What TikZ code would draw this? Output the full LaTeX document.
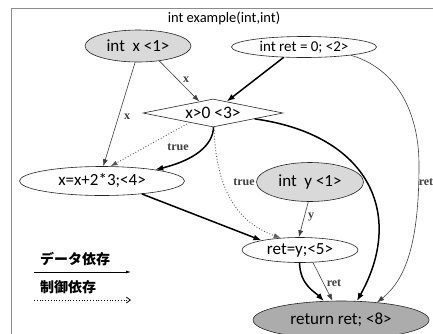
\documentclass[tikz,border=0pt]{standalone}
\usepackage{fontspec}
\setmainfont{Carlito}
\newfontfamily\lblfont{Liberation Serif}
\newfontfamily\jpfont{Noto Sans CJK JP}
\usetikzlibrary{shapes.geometric,arrows.meta}
\definecolor{framegray}{HTML}{8C8C8C}
\definecolor{lightfill}{HTML}{D9D9D9}
\definecolor{darkfill}{HTML}{ACACAC}
\tikzset{
  nodeline/.style={draw=black!85, line width=0.6pt},
  ell/.style={nodeline, ellipse, inner sep=0pt, font=\fontsize{17}{17}\selectfont},
  thin edge/.style={draw=black!75, line width=0.6pt, -{Latex[length=7pt,width=5pt]}},
  thick edge/.style={draw=black, line width=1.5pt, -{Latex[length=8pt,width=6pt]}},
  dot edge/.style={draw=black!65, line width=0.9pt, dotted, -{Latex[length=7pt,width=5pt]}},
  lbl/.style={font=\lblfont\bfseries\fontsize{12}{12}\selectfont, text=black!75, inner sep=0pt},
  jp/.style={font=\jpfont\bfseries\fontsize{14}{14}\selectfont, anchor=west, inner sep=0pt}
}
\begin{document}
\begin{tikzpicture}[x=1pt,y=-1pt]
\useasboundingbox (0,0) rectangle (433,333);
\clip (0,0) rectangle (433,333);
\fill[white] (0,0) rectangle (433,333);
\draw[framegray, line width=1.8pt] (11.5,8.5) rectangle (460,360);

\node[font=\fontsize{14.5}{14.5}\selectfont] (title) at (224,18) {int example(int,int)};

\node[ell, fill=lightfill, minimum width=106pt, minimum height=32pt] (ix) at (138,46) {int~~x <1>};
\node[ell, fill=white, minimum width=145pt, minimum height=21pt, font=\fontsize{15}{15}\selectfont] (r2) at (304,47) {int ret = 0; <2>};
\node[nodeline, diamond, aspect=5, fill=white, inner sep=0pt, minimum width=140pt, minimum height=28pt, font=\fontsize{17.5}{17.5}\selectfont] (d) at (213,113) {x>0 <3>};
\node[ell, fill=white, minimum width=165pt, minimum height=29pt] (x4) at (102,181) {x=x+2*3;<4>};
\node[ell, fill=lightfill, minimum width=107pt, minimum height=39pt] (iy) at (310,182) {int~~y <1>};
\node[ell, fill=white, minimum width=116pt, minimum height=25pt] (r5) at (300,250) {ret=y;<5>};
\node[ell, fill=darkfill, minimum width=176pt, minimum height=38pt] (r8) at (341,320) {return ret; <8>};

% data dependences
\draw[thin edge] (ix.-35) -- (d.140);
\draw[thick edge] (r2.207) -- (d.40);
\draw[thin edge] (ix.-100) -- (x4.85);
\draw[thin edge] (r2.-10) .. controls (395,68) and (419,110) .. (419,165)
   .. controls (419,245) and (405,280) .. (r8.26);
\draw[thick edge] (d.-8) .. controls (370,135) and (405,215) .. (r8.50);
\draw[thick edge] (d.-88) .. controls (213,145) and (195,160) .. (x4.12);
\draw[thick edge] (x4.-18) -- (r5.166);
\draw[thin edge] (iy.-95) -- (r5.95);
\draw[thick edge] (r5.-92) .. controls (300,285) and (315,292) .. (r8.132);
\draw[thin edge] (r5.-44) -- (r8.114);

% control dependences
\draw[dot edge] (d.202) -- (x4.60);
\draw[dot edge] (d.-86) .. controls (216,200) and (245,225) .. (r5.148);

% edge labels
\node[lbl] (lx1) at (186,80) {x};
\node[lbl] (lx2) at (127,117) {x};
\node[lbl] (lt1) at (178,147) {true};
\node[lbl] (lt2) at (244,182) {true};
\node[lbl] (lret1) at (426,182) {ret};
\node[lbl] (ly) at (311,217) {y};
\node[lbl] (lret2) at (334,283) {ret};

% legend
\node[jp] (ldata) at (40,259) {データ依存};
\node[jp] (lctrl) at (40,287) {制御依存};
\coordinate (la1) at (34,272);
\coordinate (la2) at (131,272);
\coordinate (lb1) at (34,300);
\coordinate (lb2) at (131,300);
\draw[black, line width=0.7pt, -{Latex[length=5pt,width=3pt]}] (la1) -- (la2);
\draw[black, line width=0.8pt, dotted, -{Straight Barb[length=4pt,width=6pt]}] (lb1) -- (lb2);
\end{tikzpicture}
\end{document}
